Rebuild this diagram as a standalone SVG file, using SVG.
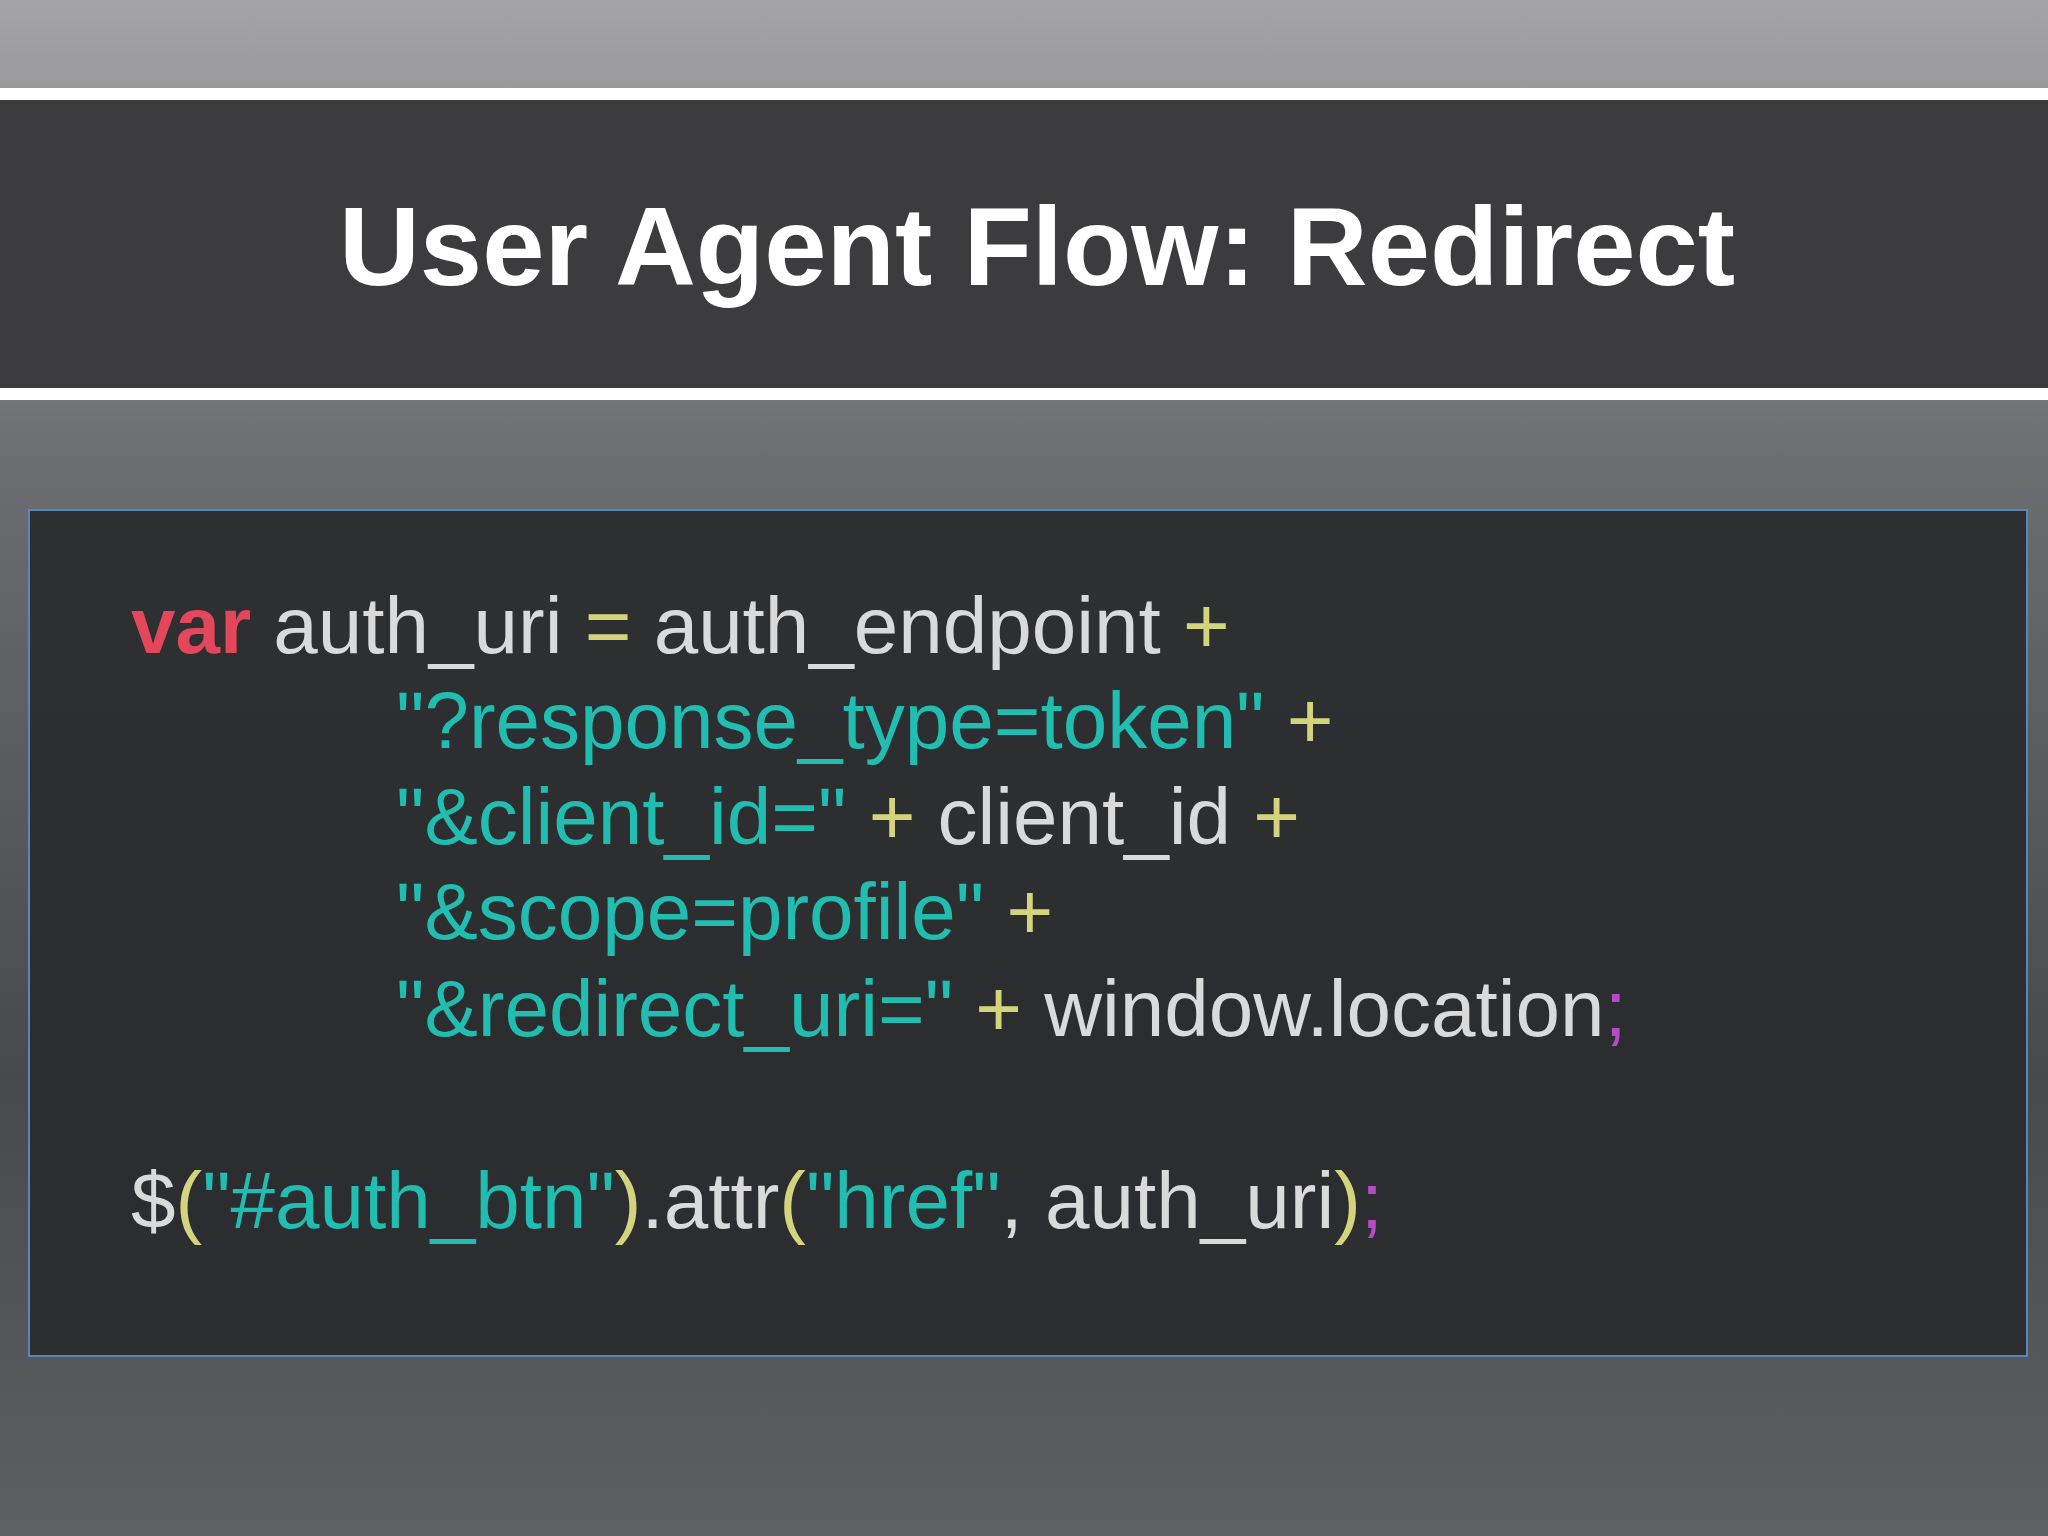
<svg xmlns="http://www.w3.org/2000/svg" width="2048" height="1536" viewBox="0 0 2048 1536">
<defs>
<linearGradient id="bg" x1="0" y1="0" x2="0" y2="1">
<stop offset="0" stop-color="#a4a4a6"/><stop offset="0.3" stop-color="#6c6d70"/><stop offset="0.7" stop-color="#48494c"/><stop offset="1" stop-color="#5e5f62"/>
</linearGradient>
<style>
.c{font-family:"Liberation Sans",Arial,sans-serif;font-size:80px;fill:#dadada}
.k{fill:#e2475b}.s{fill:#21bdb0}.o{fill:#d3d47b}.p{fill:#b44cc4}
</style>
</defs>
<rect width="2048" height="1536" fill="url(#bg)"/>
<rect x="0" y="88" width="2048" height="12" fill="#ffffff"/>
<rect x="0" y="100" width="2048" height="288" fill="#3c3c3e"/>
<rect x="0" y="388" width="2048" height="12" fill="#ffffff"/>
<g id="title"><text x="1037" y="285" text-anchor="middle" font-family="Liberation Sans,Arial,sans-serif" font-weight="bold" font-size="112" fill="#ffffff">User Agent Flow: Redirect</text></g>
<g id="codebox">
<rect x="29" y="510" width="1998" height="846" fill="#2a2b2d" fill-opacity="0.93" stroke="#5a86c0" stroke-width="2"/>
<text class="c" x="131" y="653"><tspan class="k" font-weight="bold">var</tspan> auth_uri <tspan class="o">=</tspan> auth_endpoint <tspan class="o">+</tspan></text>
<text class="c" x="396" y="748"><tspan class="s">"?response_type=token"</tspan> <tspan class="o">+</tspan></text>
<text class="c" x="396" y="844"><tspan class="s">"&amp;client_id="</tspan> <tspan class="o">+</tspan> client_id <tspan class="o">+</tspan></text>
<text class="c" x="396" y="939"><tspan class="s">"&amp;scope=profile"</tspan> <tspan class="o">+</tspan></text>
<text class="c" x="396" y="1036"><tspan class="s">"&amp;redirect_uri="</tspan> <tspan class="o">+</tspan> window.location<tspan class="p">;</tspan></text>
<text class="c" x="131" y="1228">$<tspan class="o">(</tspan><tspan class="s">"#auth_btn"</tspan><tspan class="o">)</tspan>.attr<tspan class="o">(</tspan><tspan class="s">"href"</tspan>, auth_uri<tspan class="o">)</tspan><tspan class="p">;</tspan></text>
</g>
</svg>
